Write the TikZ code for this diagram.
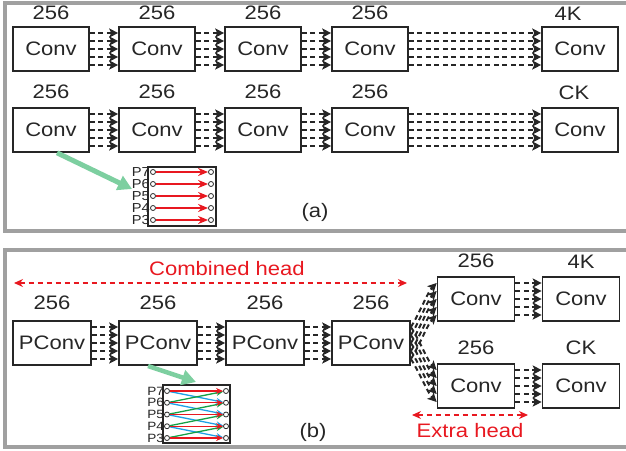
\documentclass[tikz,border=0pt]{standalone}
\usepackage{fontspec}
\setmainfont[FakeStretch=1.13]{Liberation Sans}
\usetikzlibrary{arrows.meta}
\definecolor{framegray}{RGB}{160,160,160}
\definecolor{headred}{RGB}{232,24,32}
\definecolor{lvlblue}{RGB}{30,160,230}
\definecolor{lvlgreen}{RGB}{20,160,70}
\definecolor{pointgreen}{RGB}{125,207,160}
\newcommand{\bundle}[2]{\foreach \dy in {-16,-8,0,8,16}
  \draw[link] ([yshift=\dy pt]#1.east) -- ([yshift=\dy pt]#2.west);}
\begin{document}
\begin{tikzpicture}[x=1pt,y=1pt]
\tikzstyle{every node}+=[font=\fontsize{19.5}{19.5}\selectfont, text=black!85]
\tikzstyle{blk}=[draw=black!85, line width=1.6pt, minimum width=76pt, minimum height=44pt, inner sep=0pt]
\tikzstyle{num}=[inner sep=0pt, label distance=6pt]
\tikzstyle{link}=[black!85, line width=2pt, dash pattern=on 5pt off 3.5pt, -{Stealth[length=9pt,width=9pt,inset=2pt]}]
\tikzstyle{frame}=[framegray, line width=4pt]
\tikzstyle{pt}=[draw=black!85, circle, line width=0.8pt, minimum size=5pt, inner sep=0pt]
\tikzstyle{plab}=[font=\fontsize{13}{13}\selectfont, inner sep=0pt, label distance=0pt]
\tikzstyle{pointer}=[pointgreen, line width=5pt, -{Triangle[length=14pt,width=15pt]}]
\tikzstyle{headarrow}=[headred, line width=1.2pt, dash pattern=on 5pt off 4pt, {Stealth[length=9pt,width=8pt]}-{Stealth[length=9pt,width=8pt]}]
\useasboundingbox (0,0) rectangle (626,-450);

% frames
\draw[frame] (5,-2.5) rectangle (640,-231);
\draw[frame] (5,-249.5) rectangle (640,-447);

% (a) first branch
\node[blk, label={[num]above:256}] (a1) at (51,-49) {Conv};
\node[blk, label={[num]above:256}] (a2) at (157,-49) {Conv};
\node[blk, label={[num]above:256}] (a3) at (263,-49) {Conv};
\node[blk, label={[num]above:256}] (a4) at (370,-49) {Conv};
\node[blk, label={[num,xshift=-12pt]above:4K}] (a5) at (580,-49) {Conv};
\bundle{a1}{a2} \bundle{a2}{a3} \bundle{a3}{a4} \bundle{a4}{a5}

% (a) second branch
\node[blk, label={[num,label distance=8pt]above:256}] (b1) at (51,-130) {Conv};
\node[blk, label={[num,label distance=8pt]above:256}] (b2) at (157,-130) {Conv};
\node[blk, label={[num,label distance=8pt]above:256}] (b3) at (263,-130) {Conv};
\node[blk, label={[num,label distance=8pt]above:256}] (b4) at (370,-130) {Conv};
\node[blk, label={[num,label distance=7pt,xshift=-6pt]above:CK}] (b5) at (580,-130) {Conv};
\bundle{b1}{b2} \bundle{b2}{b3} \bundle{b3}{b4} \bundle{b4}{b5}

% (a) separate heads per level
\draw[line width=1.6pt, black!85] (148,-167) rectangle (216,-226);
\foreach \lv/\y in {7/172,6/184,5/196,4/208,3/220} {
  \node[pt, label={[plab]left:P\lv}] (al\lv) at (153,-\y) {};
  \node[pt] (ar\lv) at (211,-\y) {};
  \draw[headred, line width=1.8pt, -{Stealth[length=10pt,width=8pt]}] (al\lv) -- (ar\lv);
}
\coordinate (ga) at (132,-189);
\draw[pointer] ([xshift=6pt]b1.south) -- (ga);
\node (capa) at (315,-212) {(a)};

% (b) combined head
\coordinate (ch1) at (14,-283);
\coordinate (ch2) at (407,-283);
\draw[headarrow] (ch1) -- (ch2);
\node[text=headred] (chl) at (227,-269) {Combined head};
\node[blk, minimum width=78pt, label={[num,label distance=10pt]above:256}] (p1) at (52,-343) {PConv};
\node[blk, minimum width=78pt, label={[num,label distance=10pt]above:256}] (p2) at (158,-343) {PConv};
\node[blk, minimum width=78pt, label={[num,label distance=10pt]above:256}] (p3) at (265,-343) {PConv};
\node[blk, minimum width=78pt, label={[num,label distance=10pt]above:256}] (p4) at (371,-343) {PConv};
\bundle{p1}{p2} \bundle{p2}{p3} \bundle{p3}{p4}

% (b) extra head
\node[blk, minimum width=77pt, label={[num,label distance=8pt]above:256}] (c1) at (476,-299) {Conv};
\node[blk, minimum width=77pt, label={[num,label distance=8pt]above:4K}] (c2) at (581,-299) {Conv};
\node[blk, minimum width=77pt, label={[num,label distance=8pt]above:256}] (d1) at (476,-386) {Conv};
\node[blk, minimum width=77pt, label={[num,label distance=8pt]above:CK}] (d2) at (581,-386) {Conv};
\bundle{c1}{c2} \bundle{d1}{d2}
\foreach \dy in {-16,-8,0,8,16} {
  \draw[link] ([yshift=\dy pt]p4.east) .. controls +(7,10) and +(-9,-9) .. ([yshift=\dy pt]c1.west);
  \draw[link] ([yshift=\dy pt]p4.east) .. controls +(7,-10) and +(-9,9) .. ([yshift=\dy pt]d1.west);
}
\coordinate (eh1) at (412,-415);
\coordinate (eh2) at (528,-415);
\draw[headarrow] (eh1) -- (eh2);
\node[text=headred] (ehl) at (470,-431) {Extra head};

% (b) shared head across levels
\draw[line width=1.6pt, black!85] (163,-385) rectangle (230,-443);
\foreach \lv/\y in {7/391,6/402.75,5/414.5,4/426.25,3/438} {
  \node[pt, label={[plab,font=\fontsize{12}{12}\selectfont]left:P\lv}] (bl\lv) at (167,-\y) {};
  \node[pt] (br\lv) at (226,-\y) {};
}
\foreach \lv/\nx in {7/6,6/5,5/4,4/3}
  \draw[lvlblue, line width=1.3pt, -{Stealth[length=7pt,width=6pt]}] (bl\lv) -- (br\nx);
\foreach \lv/\nx in {3/4,4/5,5/6,6/7}
  \draw[lvlgreen, line width=1.3pt, -{Stealth[length=7pt,width=6pt]}] (bl\lv) -- (br\nx);
\foreach \lv in {7,6,5,4,3}
  \draw[headred, line width=1.3pt, -{Stealth[length=7pt,width=6pt]}] (bl\lv) -- (br\lv);
\coordinate (gb) at (196,-382);
\draw[pointer, line width=4.5pt] (148,-366) -- (gb);
\node (capb) at (313,-432) {(b)};
\end{tikzpicture}
\end{document}
